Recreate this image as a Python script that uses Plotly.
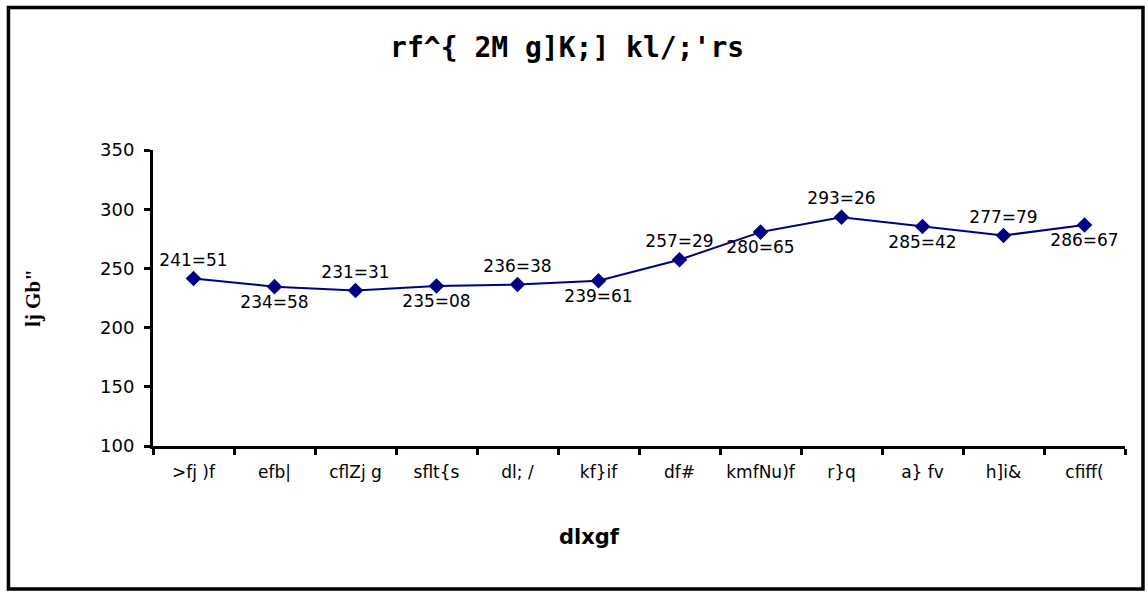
import plotly.graph_objects as go

months = [">fj )f", "efb|", "cflZj g", "sflt{s", "dl; /", "kf}if",
          "df#", "kmfNu)f", "r}q", "a} fv", "h]i&", "cfiff("]
values = [241.51, 234.58, 231.31, 235.08, 236.38, 239.61,
          257.29, 280.65, 293.26, 285.42, 277.79, 286.67]
label_pos = ["top center", "bottom center"] * 6
chart_title = "rf^{ 2M g]K;] kl/;'rs"
x_title = "dlxgf"
y_title = 'lj Gb"'
y_ticks = [100, 150, 200, 250, 300, 350]

labels = [f"{v:.2f}".replace(".", "=") for v in values]

fig = go.Figure()
fig.add_trace(go.Scatter(
    x=months, y=values, mode="lines+markers+text",
    line=dict(color="#000080", width=2),
    marker=dict(symbol="diamond", size=12, color="#000080"),
    text=labels, textposition=label_pos,
    textfont=dict(family="DejaVu Sans", size=17, color="black"),
    cliponaxis=False, showlegend=False,
))

fig.update_layout(
    width=1148, height=595,
    margin=dict(l=153, r=23, t=150, b=149),
    paper_bgcolor="white", plot_bgcolor="white",
    title=dict(text=chart_title, x=0.494, xanchor="center", y=0.921, yanchor="middle",
               font=dict(family="DejaVu Sans Mono", size=28, color="black", weight="bold")),
    xaxis=dict(type="category", range=[-0.5, 11.5], tickson="boundaries",
               showline=True, linecolor="black", linewidth=3,
               ticks="outside", ticklen=6, tickwidth=3, tickcolor="black",
               showgrid=False, zeroline=False, ticklabelstandoff=9,
               tickfont=dict(family="DejaVu Sans", size=17, color="black")),
    yaxis=dict(range=[100, 350], tickvals=y_ticks,
               showline=True, linecolor="black", linewidth=3,
               ticks="outside", ticklen=6, tickwidth=3, tickcolor="black",
               showgrid=False, zeroline=False, ticklabelstandoff=6,
               tickfont=dict(family="DejaVu Sans", size=18, color="black")),
    annotations=[
        dict(text=x_title, xref="paper", yref="paper", x=0.4486, y=-0.3074,
             xanchor="center", yanchor="middle", showarrow=False,
             font=dict(family="DejaVu Sans", size=21, color="black", weight="bold")),
        dict(text=y_title, xref="paper", yref="paper", x=-0.1235, y=0.5,
             xanchor="center", yanchor="middle", showarrow=False, textangle=-90,
             font=dict(family="Liberation Sans Narrow", size=21, color="black", weight="bold")),
    ],
    shapes=[dict(type="rect", xref="paper", yref="paper",
                 x0=-0.1487, x1=1.0185, y0=-0.4831, y1=1.4814,
                 line=dict(color="black", width=3.5), fillcolor="rgba(0,0,0,0)")],
)

fig.write_html("out.html", config={"displayModeBar": False},
               post_script="document.body.style.margin='0';document.body.style.overflow='hidden';")
